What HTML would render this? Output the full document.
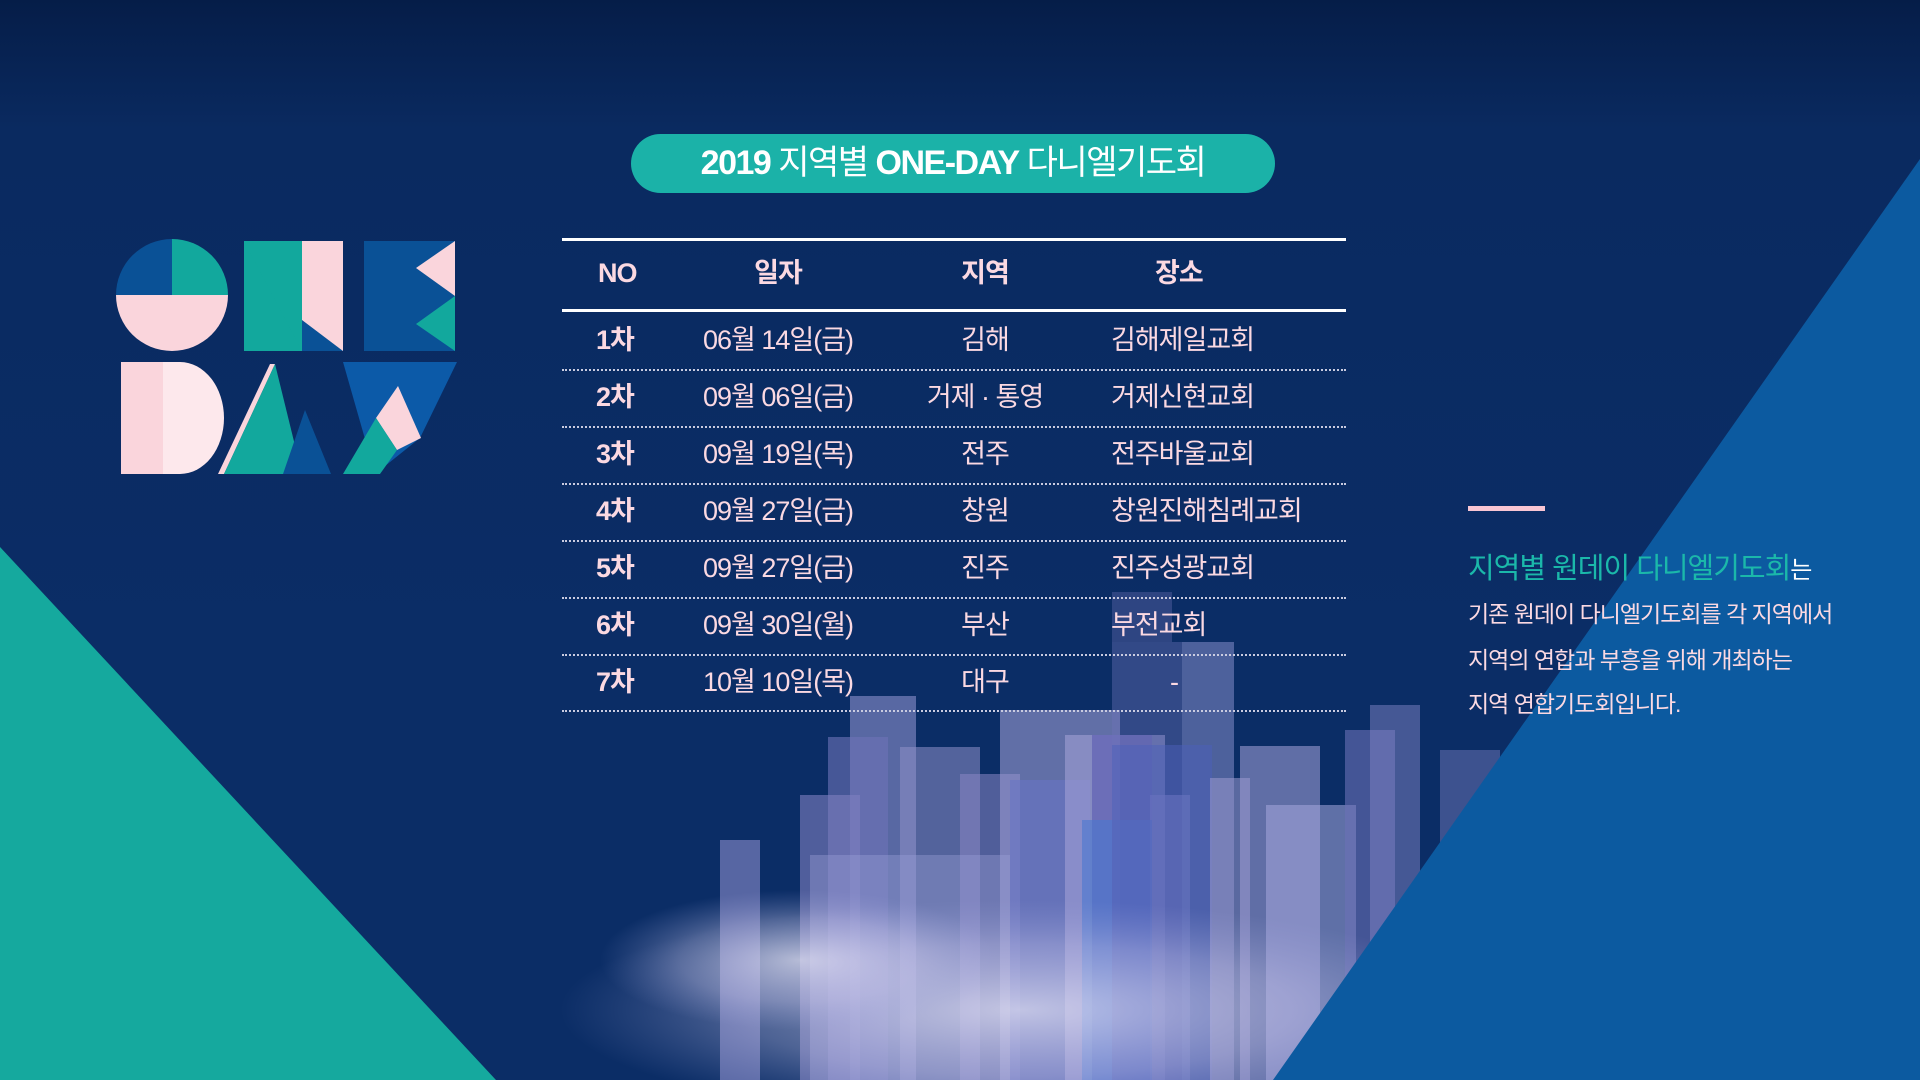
<!DOCTYPE html>
<html><head><meta charset="utf-8"><style>
*{margin:0;padding:0;box-sizing:border-box}
body{width:1920px;height:1080px;overflow:hidden;font-family:"Liberation Sans","Noto Sans CJK KR",sans-serif;position:relative;background:linear-gradient(#051d48 0%,#0a2a60 12%,#0b2d66 60%,#0b2d66 100%)}
.abs{position:absolute}
.pill{left:631px;top:134px;width:644px;height:59px;border-radius:30px;background:#1bb2a8;color:#fff;font-size:34px;text-align:center;line-height:59px;letter-spacing:-1.5px}
.tbl{left:562px;top:238px;width:784px}
.row{position:absolute;left:0;width:784px;height:57px;color:#fbd9e2;font-size:27px;letter-spacing:-1px}
.row span{position:absolute;top:0;line-height:57px}
.c1{left:34px;font-weight:bold}
.c2{left:136px;width:160px;text-align:center}
.c3{left:323px;width:200px;text-align:center}
.c4{left:549px}
.sep{position:absolute;left:0;width:784px;border-top:2px dotted #c9cbe0}
.desc{left:1468px;color:#fbd9e2;font-size:23px;letter-spacing:-1px}
</style></head><body>
<svg class="abs" style="left:0;top:0" width="1920" height="1080">
<defs>
<radialGradient id="fog" cx=".5" cy=".5" r=".5"><stop offset="0" stop-color="#e8e6f6" stop-opacity=".7"/><stop offset=".6" stop-color="#c8c6ea" stop-opacity=".35"/><stop offset="1" stop-color="#a0a6dc" stop-opacity="0"/></radialGradient>
</defs>
<g>
<rect x="850" y="696" width="66" height="384" fill="#8c90cc" opacity=".6"/>
<rect x="828" y="737" width="60" height="343" fill="#6e73b8" opacity=".6"/>
<rect x="800" y="795" width="60" height="285" fill="#7f7fc0" opacity=".6"/>
<rect x="900" y="747" width="80" height="333" fill="#8f8fc8" opacity=".55"/>
<rect x="960" y="774" width="60" height="306" fill="#8a86c4" opacity=".55"/>
<rect x="1000" y="710" width="120" height="370" fill="#9b9bd2" opacity=".6"/>
<rect x="1010" y="780" width="80" height="300" fill="#6775c4" opacity=".6"/>
<rect x="1065" y="735" width="100" height="345" fill="#a8a4d8" opacity=".55"/>
<rect x="1092" y="735" width="60" height="345" fill="#5a5ab0" opacity=".6"/>
<rect x="1150" y="795" width="40" height="285" fill="#9890cc" opacity=".6"/>
<rect x="1082" y="820" width="70" height="260" fill="#4a78d0" opacity=".6"/>
<rect x="1182" y="642" width="52" height="438" fill="#7984c0" opacity=".6"/>
<rect x="1112" y="642" width="70" height="438" fill="#6f73b8" opacity=".4"/>
<rect x="1112" y="592" width="60" height="50" fill="#6f73b8" opacity=".35"/>
<rect x="1112" y="745" width="100" height="335" fill="#4b5fba" opacity=".5"/>
<rect x="1240" y="746" width="80" height="334" fill="#9a9ad0" opacity=".6"/>
<rect x="1210" y="778" width="40" height="302" fill="#9d9ad0" opacity=".55"/>
<rect x="1266" y="805" width="90" height="275" fill="#a5a8dc" opacity=".55"/>
<rect x="1345" y="730" width="50" height="350" fill="#6a70b6" opacity=".6"/>
<rect x="1370" y="705" width="50" height="375" fill="#8084c4" opacity=".5"/>
<rect x="1440" y="750" width="60" height="200" fill="#7b80c0" opacity=".45"/>
<rect x="720" y="840" width="40" height="240" fill="#8a8ccc" opacity=".6"/>
<rect x="810" y="855" width="200" height="225" fill="#9aa0d8" opacity=".4"/>
<ellipse cx="1020" cy="1010" rx="460" ry="110" fill="url(#fog)"/>
<ellipse cx="800" cy="960" rx="200" ry="70" fill="url(#fog)"/>
</g>
<polygon points="0,547 496,1080 0,1080" fill="#15a99e"/>
<polygon points="1920,159 1920,1080 1273,1080" fill="#0c5aa0"/>
<g>
<path d="M172,239 A56,56 0 0,0 116,295 L172,295 Z" fill="#0a5196"/>
<path d="M172,239 A56,56 0 0,1 228,295 L172,295 Z" fill="#12a89d"/>
<path d="M116,295 A56,56 0 0,0 228,295 Z" fill="#fad5dc"/>
<rect x="244" y="241" width="58" height="110" fill="#12a89d"/>
<rect x="302" y="241" width="41" height="110" fill="#fad5dc"/>
<polygon points="302,320 343,351 302,351" fill="#0a5196"/>
<polygon points="244,241 302,351 302,241" fill="#12a89d"/>
<rect x="364" y="241" width="91" height="110" fill="#0a5196"/>
<polygon points="455,241 455,296 416,268" fill="#fad5dc"/>
<polygon points="455,296 455,351 416,324" fill="#12a89d"/>
<rect x="121" y="362" width="42" height="112" fill="#fad5dc"/>
<path d="M163,362 L180,362 A44,56 0 0,1 180,474 L163,474 Z" fill="#fde8ec"/>
<polygon points="218,474 270,364 275,364 224,474" fill="#fad5dc"/>
<polygon points="224,474 275,364 302,474" fill="#12a89d"/>
<polygon points="283,474 305,410 331,474" fill="#0a5196"/>
<polygon points="343,362 457,362 420,438 375,474" fill="#0c5aa8"/>
<polygon points="398,386 421,438 397,450 376,418" fill="#fad5dc"/>
<polygon points="343,474 376,418 397,450 380,474" fill="#12a89d"/>
</g>
<rect x="1468" y="506" width="77" height="5" fill="#f9c6d3"/>
</svg>

<div class="abs pill"><b>2019</b> 지역별 <b>ONE-DAY</b> 다니엘기도회</div>

<div class="abs tbl">
<div class="abs" style="left:0;top:0;width:784px;border-top:3px solid #fff"></div>
<div class="row" style="top:7px;font-weight:bold">
<span style="left:36px">NO</span><span class="c2">일자</span><span class="c3">지역</span><span style="left:593px">장소</span></div>
<div class="abs" style="left:0;top:71px;width:784px;border-top:3px solid #fff"></div>
<div class="row" style="top:74px"><span class="c1">1차</span><span class="c2">06월 14일(금)</span><span class="c3">김해</span><span class="c4">김해제일교회</span></div>
<div class="sep" style="top:131px"></div>
<div class="row" style="top:131px"><span class="c1">2차</span><span class="c2">09월 06일(금)</span><span class="c3">거제 · 통영</span><span class="c4">거제신현교회</span></div>
<div class="sep" style="top:188px"></div>
<div class="row" style="top:188px"><span class="c1">3차</span><span class="c2">09월 19일(목)</span><span class="c3">전주</span><span class="c4">전주바울교회</span></div>
<div class="sep" style="top:245px"></div>
<div class="row" style="top:245px"><span class="c1">4차</span><span class="c2">09월 27일(금)</span><span class="c3">창원</span><span class="c4">창원진해침례교회</span></div>
<div class="sep" style="top:302px"></div>
<div class="row" style="top:302px"><span class="c1">5차</span><span class="c2">09월 27일(금)</span><span class="c3">진주</span><span class="c4">진주성광교회</span></div>
<div class="sep" style="top:359px"></div>
<div class="row" style="top:359px"><span class="c1">6차</span><span class="c2">09월 30일(월)</span><span class="c3">부산</span><span class="c4">부전교회</span></div>
<div class="sep" style="top:416px"></div>
<div class="row" style="top:416px"><span class="c1">7차</span><span class="c2">10월 10일(목)</span><span class="c3">대구</span><span class="c4" style="left:608px">-</span></div>
<div class="sep" style="top:472px"></div>
</div>

<div class="abs desc" style="top:545px;font-size:29px;color:#fff"><span style="color:#1bb8aa">지역별 원데이 다니엘기도회</span><span style="font-size:24px">는</span></div>
<div class="abs desc" style="top:595px">기존 원데이 다니엘기도회를 각 지역에서</div>
<div class="abs desc" style="top:641px">지역의 연합과 부흥을 위해 개최하는</div>
<div class="abs desc" style="top:685px">지역 연합기도회입니다.</div>
</body></html>
